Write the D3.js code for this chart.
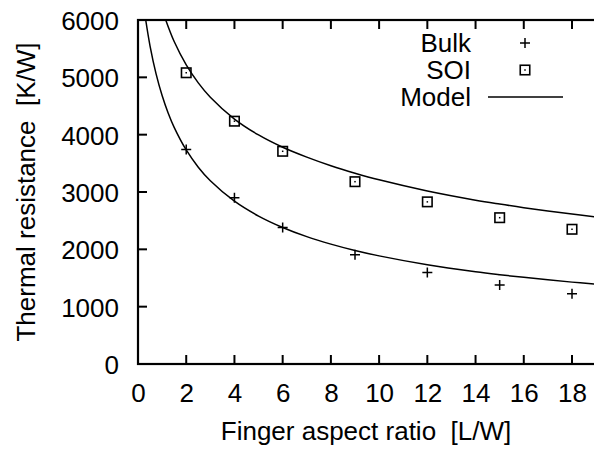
<!DOCTYPE html>
<html>
<head>
<meta charset="utf-8">
<script src="https://cdn.jsdelivr.net/npm/d3@7/dist/d3.min.js"></script>
<style>
  html, body { margin: 0; padding: 0; background: #fff; }
  svg { display: block; font-family: "Liberation Sans", Arial, Helvetica, sans-serif; }
  svg text { white-space: pre; }
</style>
</head>
<body>
<svg id="chart" width="594" height="449"></svg>
<script>
// ---- data ----
const aspectRatios = [2, 4, 6, 9, 12, 15, 18];
const bulkValues   = [3740, 2900, 2380, 1905, 1595, 1378, 1225];
const soiValues    = [5080, 4235, 3710, 3180, 2828, 2552, 2350];

// model curves
const bulkModelX = [0.32, 0.5, 0.75, 1, 1.25, 1.5, 2, 2.5, 3, 4, 5, 6, 7, 8, 9, 10, 12, 14, 15, 16, 18, 19];
const bulkModelY = [6000, 5546, 5060, 4683, 4379, 4128, 3733, 3433, 3195, 2839, 2580, 2381, 2221, 2091, 1980, 1886, 1732, 1610, 1558, 1511, 1428, 1391];
const soiModelX  = [1.15, 1.5, 2, 2.5, 3, 4, 5, 6, 7, 8, 9, 10, 12, 14, 15, 16, 18, 19];
const soiModelY  = [6000, 5624, 5217, 4904, 4653, 4272, 3995, 3780, 3608, 3458, 3328, 3212, 3018, 2858, 2790, 2727, 2616, 2566];

const xTicks = [0, 2, 4, 6, 8, 10, 12, 14, 16, 18];
const yTicks = [0, 1000, 2000, 3000, 4000, 5000, 6000];
const legendLabels = ["Bulk", "SOI", "Model"];
const xTitle = "Finger aspect ratio  [L/W]";
const yTitle = "Thermal resistance  [K/W]";

// ---- layout ----
const svg = d3.select("#chart");
const pL = 138, pR = 596, pT = 20, pB = 364;
const pxPerUnit = (572 - 138) / 18;
const x = d3.scaleLinear().domain([0, (pR - pL) / pxPerUnit]).range([pL, pR]);
const y = d3.scaleLinear().domain([0, 6000]).range([pB, pT]);
const fontSize = 26;

svg.append("defs").append("clipPath").attr("id", "plotclip")
  .append("rect").attr("x", pL).attr("y", pT).attr("width", pR - pL).attr("height", pB - pT);

// ticks (inward)
const tickLen = 9;
const g = svg.append("g").attr("stroke", "#000").attr("stroke-width", 2);
xTicks.forEach(t => {
  if (t === 0) return;
  g.append("line").attr("x1", x(t)).attr("x2", x(t)).attr("y1", pB).attr("y2", pB - tickLen);
  g.append("line").attr("x1", x(t)).attr("x2", x(t)).attr("y1", pT).attr("y2", pT + tickLen);
});
yTicks.forEach(t => {
  if (t === 0 || t === 6000) return;
  g.append("line").attr("x1", pL).attr("x2", pL + tickLen).attr("y1", y(t)).attr("y2", y(t));
});

// tick labels through d3 axes
const xAxis = d3.axisBottom(x).tickValues(xTicks).tickSize(0).tickPadding(0).tickFormat(d3.format("d"));
const xg = svg.append("g").attr("transform", `translate(0,${pB})`).call(xAxis);
xg.select(".domain").remove();
xg.selectAll("text").attr("font-size", fontSize).attr("font-family", "Liberation Sans, Arial, sans-serif")
  .attr("fill", "#000").attr("dy", null).attr("y", 38);

const yAxis = d3.axisLeft(y).tickValues(yTicks).tickSize(0).tickPadding(0).tickFormat(d3.format("d"));
const yg = svg.append("g").attr("transform", `translate(119,0)`).call(yAxis);
yg.select(".domain").remove();
yg.selectAll("text").attr("font-size", fontSize).attr("font-family", "Liberation Sans, Arial, sans-serif")
  .attr("fill", "#000").attr("dy", "0.36em").attr("x", 0);

// border
svg.append("rect").attr("x", pL).attr("y", pT).attr("width", pR - pL).attr("height", pB - pT)
  .attr("fill", "none").attr("stroke", "#000").attr("stroke-width", 2.2);

// model curves
const line = d3.line().x(d => x(d[0])).y(d => y(d[1])).curve(d3.curveCatmullRom.alpha(0.5));
const plot = svg.append("g").attr("clip-path", "url(#plotclip)");
plot.append("path").datum(d3.zip(bulkModelX, bulkModelY)).attr("d", line)
  .attr("fill", "none").attr("stroke", "#000").attr("stroke-width", 1.5);
plot.append("path").datum(d3.zip(soiModelX, soiModelY)).attr("d", line)
  .attr("fill", "none").attr("stroke", "#000").attr("stroke-width", 1.5);

// markers
function plus(sel, cx, cy) {
  sel.append("path").attr("d", `M${cx - 5},${cy}H${cx + 5}M${cx},${cy - 5}V${cy + 5}`)
    .attr("stroke", "#000").attr("stroke-width", 1.5).attr("fill", "none");
}
function square(sel, cx, cy) {
  sel.append("rect").attr("x", cx - 4.75).attr("y", cy - 4.75).attr("width", 9.5).attr("height", 9.5)
    .attr("fill", "none").attr("stroke", "#000").attr("stroke-width", 1.6);
  sel.append("rect").attr("x", cx - 0.75).attr("y", cy - 0.75).attr("width", 1.5).attr("height", 1.5).attr("fill", "#000");
}
const marks = svg.append("g");
aspectRatios.forEach((a, i) => plus(marks, x(a), y(bulkValues[i])));
aspectRatios.forEach((a, i) => square(marks, x(a), y(soiValues[i])));

// legend
const legX = 471, legMark = 525, rowY = [43, 70, 97];
const leg = svg.append("g");
legendLabels.forEach((t, i) => {
  leg.append("text").attr("x", legX).attr("y", rowY[i]).attr("dy", "0.36em")
    .attr("text-anchor", "end").attr("font-size", fontSize).text(t);
});
plus(leg, legMark, rowY[0]);
square(leg, legMark, rowY[1]);
leg.append("line").attr("x1", 488).attr("x2", 563).attr("y1", rowY[2]).attr("y2", rowY[2])
  .attr("stroke", "#000").attr("stroke-width", 1.5);

// titles
svg.append("text").attr("x", (pL + 594) / 2).attr("y", 440).attr("text-anchor", "middle")
  .attr("font-size", fontSize).text(xTitle);
svg.append("text").attr("transform", `translate(35,${(pT + pB) / 2}) rotate(-90)`)
  .attr("text-anchor", "middle").attr("font-size", fontSize).text(yTitle);
</script>
</body>
</html>
